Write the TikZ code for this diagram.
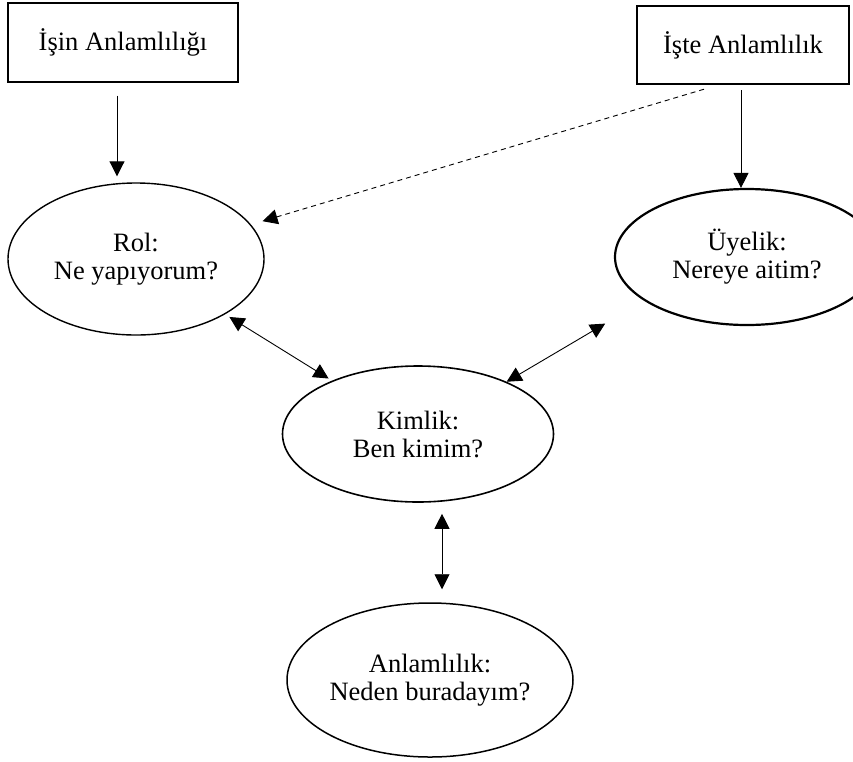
\documentclass[tikz,border=0pt]{standalone}
\usepackage{fontspec}
\setmainfont{Liberation Serif}
\usetikzlibrary{shapes.geometric,arrows.meta,calc}
\begin{document}
\begin{tikzpicture}[x=1pt,y=-1pt,
  every node/.style={font=\fontsize{26.5}{28}\selectfont, text=black},
  labelbox/.style={draw, rectangle, inner sep=0pt, line width=1.4pt},
  bubble/.style={draw, ellipse, inner sep=0pt, align=center, line width=1.4pt},
  arr/.style={-{Triangle[length=15pt,width=15pt]}, line width=0.9pt},
  biarr/.style={{Triangle[length=15pt,width=15pt]}-{Triangle[length=15pt,width=15pt]}, line width=0.9pt}]
\useasboundingbox (0,0) rectangle (853,761);
\fill[white] (0,0) rectangle (853,761);
\clip (0,0) rectangle (853,761);

% source boxes
\node[labelbox, minimum width=230pt, minimum height=79pt] (isin) at (123,42.5) {İşin Anlamlılığı};
\node[labelbox, line width=2.4pt, minimum width=212pt, minimum height=78pt] (iste) at (743,45) {İşte Anlamlılık};

% ellipses
\node[bubble, minimum width=256pt, minimum height=152pt] (rol) at (136,259) {Rol:\\Ne yapıyorum?};
\node[bubble, line width=2.2pt, minimum width=264pt, minimum height=136pt] (uy) at (747,257) {Üyelik:\\Nereye aitim?};
\node[bubble, line width=1.6pt, minimum width=271pt, minimum height=136pt] (kim) at (418,434) {Kimlik:\\Ben kimim?};
\node[bubble, line width=1.5pt, minimum width=286pt, minimum height=154pt] (anl) at (430,680) {Anlamlılık:\\Neden buradayım?};

% connectors
\coordinate (d1) at ([xshift=-6pt,yshift=-13pt]isin.south);
\draw[arr, shorten >=6pt] (d1) -- (d1 |- rol.north);

\coordinate (d2) at ([xshift=-2pt,yshift=-5pt]iste.south);
\draw[arr] (d2) -- (d2 |- uy.north);

\coordinate (d3) at ([xshift=-39pt,yshift=-4pt]iste.south);
\draw[arr, dash pattern=on 5pt off 4pt, shorten >=12pt] (d3) -- (rol);

\draw[biarr, shorten <=5pt, shorten >=4pt] (rol) -- (kim);
\draw[biarr, shorten >=45pt] (kim) -- (uy.203);

\coordinate (d4) at ([xshift=24pt,yshift=-11pt]kim.south);
\draw[biarr, shorten >=13pt] (d4) -- (d4 |- anl.north);
\end{tikzpicture}
\end{document}
